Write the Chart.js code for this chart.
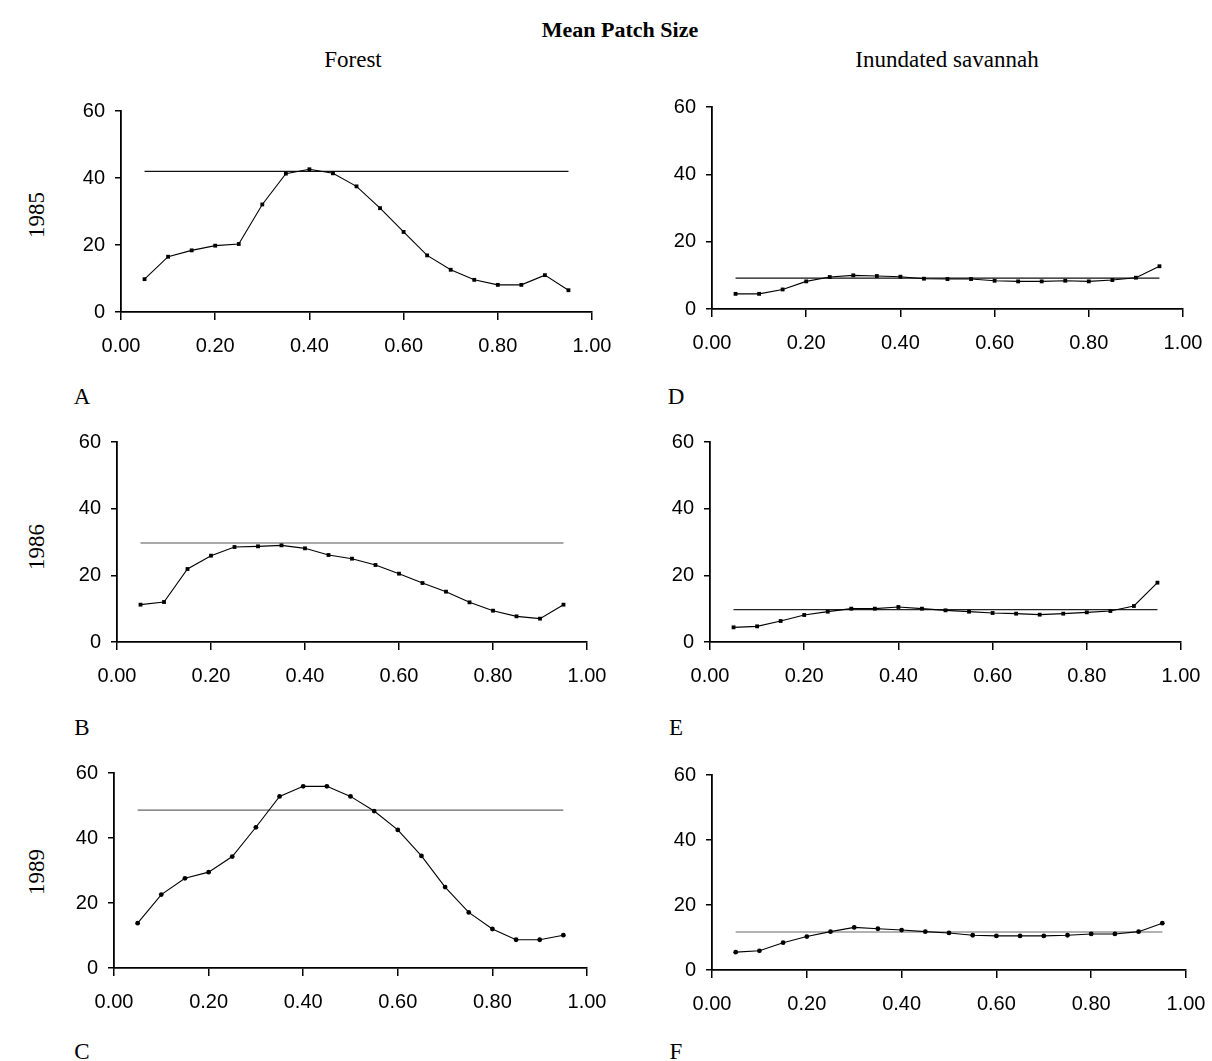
<!DOCTYPE html>
<html><head><meta charset="utf-8">
<script src="https://cdn.jsdelivr.net/npm/chart.js@4.4.1/dist/chart.umd.min.js"></script>
<style>
html,body{margin:0;padding:0;background:#fff;}
#wrap{position:relative;width:1212px;height:1061px;overflow:hidden;}
canvas{position:absolute;}
.t{position:absolute;font-family:"Liberation Serif","Times New Roman",serif;color:#000;white-space:nowrap;transform:translate(-50%,-50%);}
</style></head>
<body><div id="wrap">
<div class="t" style="left:620px;top:30px;font-size:22px;font-weight:bold;">Mean Patch Size</div>
<div class="t" style="left:353px;top:60px;font-size:23px;">Forest</div>
<div class="t" style="left:947px;top:60px;font-size:23px;">Inundated savannah</div>
<div class="t" style="left:37px;top:215px;font-size:23px;transform:translate(-50%,-50%) rotate(-90deg);">1985</div>
<div class="t" style="left:37px;top:547px;font-size:23px;transform:translate(-50%,-50%) rotate(-90deg);">1986</div>
<div class="t" style="left:37px;top:872px;font-size:23px;transform:translate(-50%,-50%) rotate(-90deg);">1989</div>
<div class="t" style="left:82px;top:397px;font-size:23px;">A</div>
<div class="t" style="left:82px;top:728px;font-size:23px;">B</div>
<div class="t" style="left:82px;top:1052px;font-size:23px;">C</div>
<div class="t" style="left:676px;top:397px;font-size:23px;">D</div>
<div class="t" style="left:676px;top:728px;font-size:23px;">E</div>
<div class="t" style="left:676px;top:1052px;font-size:23px;">F</div>
</div>
<script>
// Data
const thresholds = [0.05,0.10,0.15,0.20,0.25,0.30,0.35,0.40,0.45,0.50,0.55,0.60,0.65,0.70,0.75,0.80,0.85,0.90,0.95];
const xTicks = [0.00,0.20,0.40,0.60,0.80,1.00];
const yTicks = [0,20,40,60];
const forest1985 = [9.8,16.5,18.4,19.8,20.3,32.1,41.3,42.6,41.4,37.5,31.0,23.9,16.9,12.6,9.6,8.1,8.1,11.0,6.5];
const forest1985Mean = 42.0;
const forest1986 = [11.2,12.0,21.9,25.9,28.5,28.7,29.0,28.1,26.1,25.0,23.1,20.5,17.7,15.1,11.9,9.4,7.7,7.0,11.2];
const forest1986Mean = 29.7;
const forest1989 = [13.8,22.6,27.6,29.5,34.3,43.3,52.8,55.9,55.9,52.8,48.3,42.5,34.5,24.9,17.1,12.0,8.7,8.7,10.1];
const forest1989Mean = 48.6;
const savannah1985 = [4.5,4.5,5.8,8.2,9.5,10.0,9.8,9.6,9.0,8.9,8.9,8.4,8.2,8.2,8.4,8.2,8.6,9.3,12.7];
const savannah1985Mean = 9.2;
const savannah1986 = [4.4,4.7,6.3,8.1,9.1,10.0,10.0,10.5,10.0,9.5,9.1,8.7,8.5,8.2,8.5,8.9,9.3,10.8,17.8];
const savannah1986Mean = 9.7;
const savannah1989 = [5.5,5.9,8.4,10.3,11.8,13.1,12.7,12.3,11.8,11.4,10.7,10.5,10.5,10.5,10.7,11.1,11.1,11.8,14.4];
const savannah1989Mean = 11.7;

const YW = 80, XH = 60, PT = 15, PR = 32;
function makeChart(vals, mean, style, L, T, R, B, meanColor){
  const cv = document.createElement('canvas');
  const w = Math.round(R - L) + YW + PR, h = Math.round(B - T) + PT + XH;
  cv.width = w; cv.height = h;
  cv.style.width = w + 'px'; cv.style.height = h + 'px';
  cv.style.left = Math.round(L - YW) + 'px'; cv.style.top = Math.round(T - PT) + 'px';
  document.getElementById('wrap').appendChild(cv);
  const pts = thresholds.map((x,i)=>({x:x,y:vals[i]}));
  const meanPts = [{x:thresholds[0],y:mean},{x:thresholds[thresholds.length-1],y:mean}];
  const tickFont = {family:'"Liberation Sans", Arial, sans-serif', size:20};
  new Chart(cv, {
    type:'line',
    data:{datasets:[
      {data:pts, borderColor:'#000', borderWidth:1.1, pointStyle:style, pointRadius:style==='rect'?2.7:2.4,
       pointBackgroundColor:'#000', pointBorderColor:'#000', pointBorderWidth:0, tension:0},
      {data:meanPts, borderColor:meanColor, borderWidth:1.2, pointRadius:0, tension:0}
    ]},
    options:{
      responsive:false, animation:false, devicePixelRatio:1,
      layout:{padding:{left:0,top:PT,right:PR,bottom:0}},
      plugins:{legend:{display:false}, tooltip:{enabled:false}},
      scales:{
        x:{type:'linear', min:0, max:1,
           afterBuildTicks:(s)=>{s.ticks = xTicks.map(v=>({value:v}));},
           afterFit:(s)=>{s.height = XH; s.paddingLeft = 0; s.paddingRight = 0; s.paddingTop = 0; s.paddingBottom = 0;},
           ticks:{color:'#000', font:tickFont, padding:14, maxRotation:0, autoSkip:false,
                  callback:(v)=>Number(v).toFixed(2)},
           grid:{display:true, drawOnChartArea:false, drawTicks:true, tickLength:8, color:'#000', lineWidth:1.5},
           border:{display:true, color:'#000', width:1.8}},
        y:{type:'linear', min:0, max:60,
           afterBuildTicks:(s)=>{s.ticks = yTicks.map(v=>({value:v}));},
           afterFit:(s)=>{s.width = YW; s.paddingTop = 0; s.paddingBottom = 0; s.paddingLeft = 0; s.paddingRight = 0;},
           ticks:{color:'#000', font:tickFont, padding:10, callback:(v)=>String(v)},
           grid:{display:true, drawOnChartArea:false, drawTicks:true, tickLength:6, color:'#000', lineWidth:1.5},
           border:{display:true, color:'#000', width:1.8}}
      }
    }
  });
}
makeChart(forest1985, forest1985Mean, 'rect', 121, 110.7, 592, 312, '#111');
makeChart(forest1986, forest1986Mean, 'rect', 117.3, 442, 587.7, 642.3, '#555');
makeChart(forest1989, forest1989Mean, 'circle', 114.3, 772.7, 587.7, 967.7, '#666');
makeChart(savannah1985, savannah1985Mean, 'rect', 712, 107.3, 1182.7, 309.3, '#111');
makeChart(savannah1986, savannah1986Mean, 'rect', 710, 442.3, 1181, 642.7, '#222');
makeChart(savannah1989, savannah1989Mean, 'circle', 712.3, 775, 1186.3, 970, '#666');
</script>
</body></html>
